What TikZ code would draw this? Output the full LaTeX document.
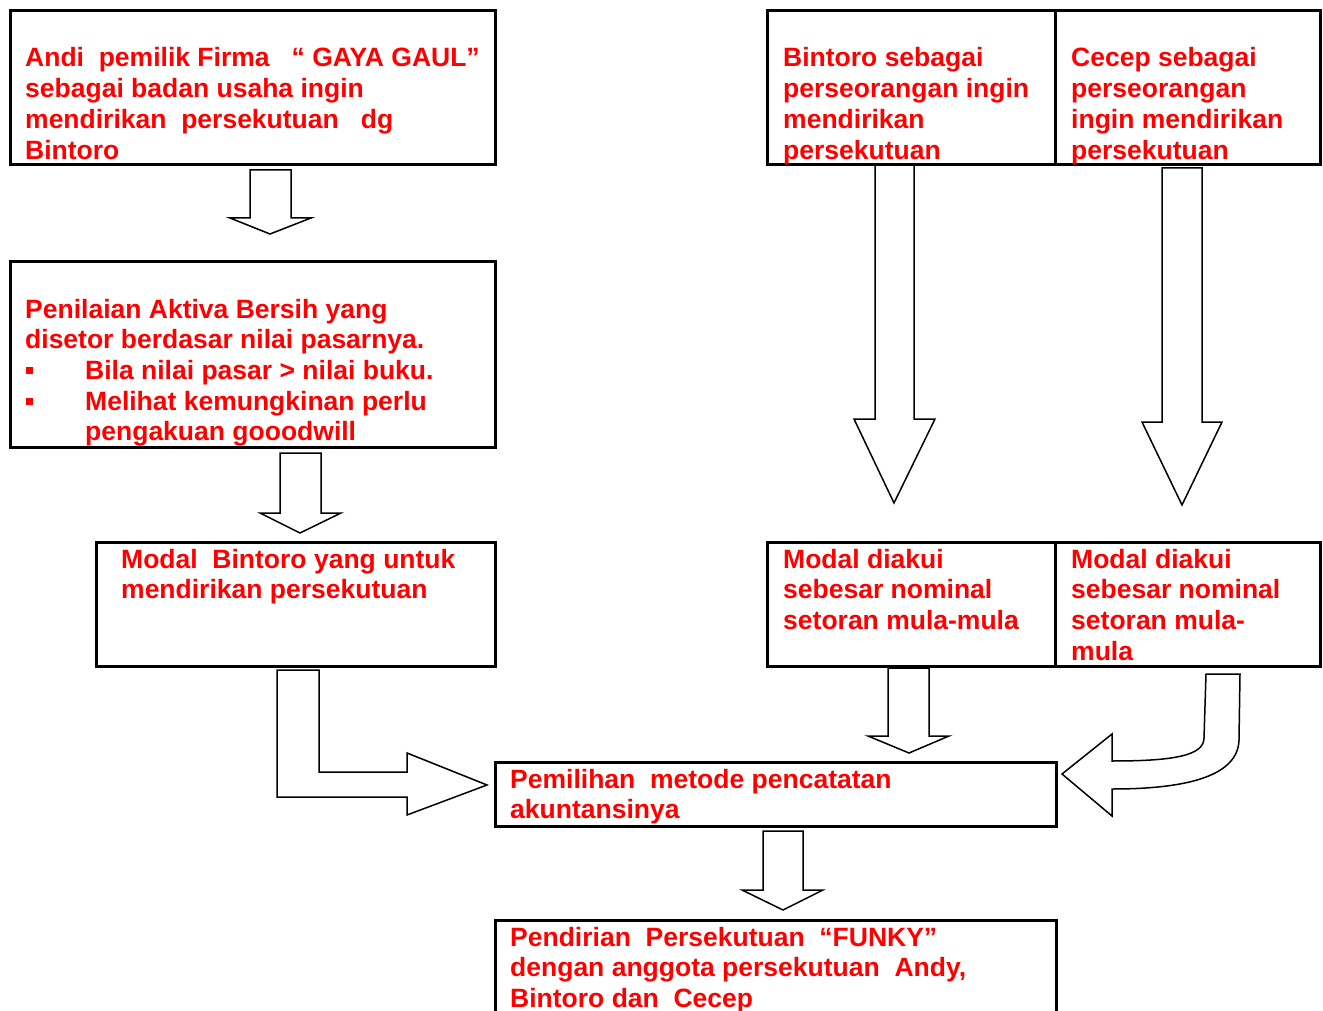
\documentclass[tikz,border=0pt]{standalone}
\usepackage{fontspec}
\setmainfont{Liberation Sans}
\definecolor{txtred}{RGB}{255,0,0}
\begin{document}
\begin{tikzpicture}[x=1pt,y=-1pt,
  box/.style={draw=black, line width=3pt, fill=white, inner sep=0pt, outer sep=0pt, anchor=north west},
  txt/.style={anchor=base west, inner sep=0pt, text=txtred, font=\fontsize{26.5}{30.7}\selectfont\bfseries},
  blockarrow/.style={draw=black, line width=1.5pt, fill=white, line join=miter}]
\useasboundingbox (0,0) rectangle (1323,1011);
\fill[white] (0,0) rectangle (1323,1011);
\clip (0,0) rectangle (1323,1011);

% block arrows (drawn first, boxes cover their ends)
\draw[blockarrow] (250,170) -- (291,170) -- (291,218) -- (311,218) -- (270,234) -- (230,218) -- (250,218) -- cycle;
\draw[blockarrow] (280,453) -- (321,453) -- (321,513) -- (341,513) -- (300,533) -- (260,513) -- (280,513) -- cycle;
\draw[blockarrow] (875,162) -- (914,162) -- (914,419) -- (935,419) -- (894,503) -- (854,419) -- (875,419) -- cycle;
\draw[blockarrow] (1162,168) -- (1202,168) -- (1202,422) -- (1222,422) -- (1182,505) -- (1142,422) -- (1162,422) -- cycle;
\draw[blockarrow] (888,668) -- (929,668) -- (929,736) -- (949,736) -- (909,753) -- (868,736) -- (888,736) -- cycle;
\draw[blockarrow] (763,831) -- (803,831) -- (803,890) -- (823,890) -- (783,910) -- (742,890) -- (763,890) -- cycle;
\draw[blockarrow] (277,670) -- (319,670) -- (319,772) -- (407,772) -- (407,753) -- (487,785) -- (407,815) -- (407,797) -- (277,797) -- cycle;
\draw[blockarrow] (1206,674) -- (1240,674) -- (1239,740)
   .. controls (1238,775) and (1190,789) .. (1112,789) -- (1112,816) -- (1062,774) -- (1112,734) -- (1112,761)
   .. controls (1172,761) and (1204,756) .. (1204,738) -- cycle;

% boxes
\node[box, minimum width=485pt, minimum height=154pt] (b1) at (10,11) {};
\node[box, minimum width=485pt, minimum height=185pt] (b2) at (10,262) {};
\node[box, minimum width=399pt, minimum height=124pt] (b3) at (96,542) {};
\node[box, minimum width=288pt, minimum height=154pt] (r1) at (767,11) {};
\node[box, minimum width=265pt, minimum height=154pt] (r2) at (1055,11) {};
\node[box, minimum width=288pt, minimum height=124pt] (m1) at (767,542) {};
\node[box, minimum width=265pt, minimum height=124pt] (m2) at (1055,542) {};
\node[box, minimum width=561pt, minimum height=64pt] (p1) at (495,762) {};
\draw[line width=3pt] (495,1030) -- (495,920) -- (1056,920) -- (1056,1030);
\coordinate (f1) at (495,920);

% texts
\node[txt] (t1) at (25,67) {\begin{tabular}[t]{@{}l@{}}
Andi\ \ pemilik Firma\ \ \ “ GAYA GAUL”\\
sebagai badan usaha ingin\\
mendirikan\ \ persekutuan\ \ \ dg\\
Bintoro\end{tabular}};
\node[txt] (t2) at (25,318) {\begin{tabular}[t]{@{}l@{}}
Penilaian Aktiva Bersih yang\\
disetor berdasar nilai pasarnya.\\
\makebox[60pt][l]{\hspace{1pt}\rule[5pt]{7pt}{7pt}}Bila nilai pasar > nilai buku.\\
\makebox[60pt][l]{\hspace{1pt}\rule[5pt]{7pt}{7pt}}Melihat kemungkinan perlu\\
\hspace*{60pt}pengakuan gooodwill\end{tabular}};
\node[txt] (t3) at (121,568) {\begin{tabular}[t]{@{}l@{}}
Modal\ \ Bintoro yang untuk\\
mendirikan persekutuan\end{tabular}};
\node[txt] (t4) at (783,67) {\begin{tabular}[t]{@{}l@{}}
Bintoro sebagai\\
perseorangan ingin\\
mendirikan\\
persekutuan\end{tabular}};
\node[txt] (t5) at (1071,67) {\begin{tabular}[t]{@{}l@{}}
Cecep sebagai\\
perseorangan\\
ingin mendirikan\\
persekutuan\end{tabular}};
\node[txt] (t6) at (783,568) {\begin{tabular}[t]{@{}l@{}}
Modal diakui\\
sebesar nominal\\
setoran mula-mula\end{tabular}};
\node[txt] (t7) at (1071,568) {\begin{tabular}[t]{@{}l@{}}
Modal diakui\\
sebesar nominal\\
setoran mula-\\
mula\end{tabular}};
\node[txt] (t8) at (510,788) {\begin{tabular}[t]{@{}l@{}}
Pemilihan\ \ metode pencatatan\\
akuntansinya\end{tabular}};
\node[txt] (t9) at (510,946) {\begin{tabular}[t]{@{}l@{}}
Pendirian\ \ Persekutuan\ \ “FUNKY”\\
dengan anggota persekutuan\ \ Andy,\\
Bintoro dan\ \ Cecep\end{tabular}};
\end{tikzpicture}
\end{document}
